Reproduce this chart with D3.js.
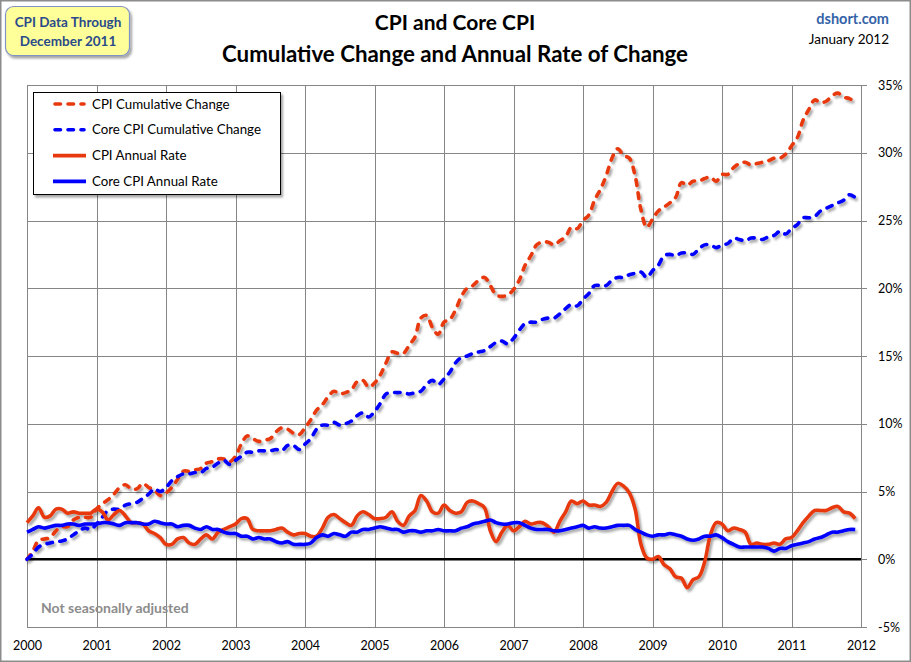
<!DOCTYPE html>
<html><head><meta charset="utf-8">
<script src="https://cdn.jsdelivr.net/npm/d3@7/dist/d3.min.js"></script>
<style>
body{margin:0;background:#fff}
svg{display:block;font-family:Lato,"Open Sans","DejaVu Sans",sans-serif}
</style>
</head><body>
<svg id="chart" width="911" height="662"></svg>
<script>
// ---------- data ----------
const xTickYears = [2000,2001,2002,2003,2004,2005,2006,2007,2008,2009,2010,2011,2012];
const yTickValues = [-5,0,5,10,15,20,25,30,35];
const startYear = 2000; // first monthly observation: Jan 2000, monthly through Dec 2011

// CPI cumulative change since Jan 2000 (%)
const cpiCumulative = [
 0.0,0.6,1.4,1.5,1.6,2.1,2.4,2.4,2.9,3.1,3.1,3.1,
 3.7,4.1,4.4,4.8,5.3,5.5,5.2,5.2,5.6,5.3,5.1,4.7,
 4.9,5.3,5.9,6.5,6.5,6.6,6.7,7.1,7.2,7.4,7.4,7.2,
 7.6,8.5,9.1,8.9,8.7,8.8,8.9,9.4,9.7,9.6,9.3,9.2,
 9.7,10.3,11.0,11.4,12.0,12.4,12.2,12.3,12.5,13.1,13.2,12.7,
 13.0,13.6,14.5,15.3,15.2,15.2,15.8,16.4,17.8,18.0,17.1,16.6,
 17.5,17.7,18.4,19.4,20.0,20.2,20.6,20.8,20.2,19.5,19.4,19.5,
 19.9,20.6,21.7,22.4,23.2,23.4,23.4,23.2,23.5,23.8,24.5,24.4,
 25.0,25.4,26.5,27.3,28.3,29.6,30.3,29.8,29.6,28.3,25.8,24.5,
 25.1,25.7,26.0,26.3,26.7,27.8,27.6,27.9,27.9,28.1,28.2,27.9,
 28.4,28.4,28.9,29.2,29.3,29.1,29.2,29.3,29.4,29.6,29.6,29.9,
 30.5,31.1,32.4,33.2,33.9,33.7,33.8,34.2,34.4,34.1,34.0,33.7
];
// Core CPI cumulative change since Jan 2000 (%)
const coreCumulative = [
 0.0,0.4,0.9,1.1,1.2,1.3,1.35,1.5,1.8,2.1,2.3,2.2,
 2.6,3.1,3.6,3.7,3.7,4.0,4.1,4.2,4.5,4.8,5.2,5.0,
 5.3,5.8,6.1,6.3,6.3,6.4,6.4,6.7,6.8,7.1,7.3,7.0,
 7.3,7.6,7.9,7.9,8.0,8.0,8.0,8.1,8.0,8.4,8.4,8.1,
 8.5,8.9,9.6,9.9,9.9,10.1,9.9,10.0,10.2,10.6,10.8,10.5,
 10.9,11.5,12.2,12.3,12.3,12.3,12.2,12.3,12.4,12.9,13.2,12.9,
 13.3,13.8,14.5,14.9,15.0,15.2,15.3,15.4,15.7,16.0,16.1,15.9,
 16.3,16.9,17.4,17.5,17.5,17.7,17.8,17.8,18.1,18.5,18.8,18.7,
 19.2,19.6,20.2,20.2,20.2,20.6,20.8,20.8,21.0,21.1,21.2,20.8,
 21.3,21.7,22.4,22.5,22.4,22.6,22.6,22.5,22.9,23.2,23.2,23.0,
 23.2,23.3,23.7,23.6,23.5,23.7,23.7,23.6,23.8,23.9,24.2,24.0,
 24.4,24.7,25.2,25.2,25.3,25.7,25.9,26.1,26.3,26.5,26.9,26.7
];
// CPI year-over-year rate (%)
const cpiAnnual = [
 2.7,3.2,3.8,3.1,3.2,3.7,3.7,3.4,3.5,3.4,3.4,3.4,
 3.7,3.5,2.9,3.3,3.6,3.2,2.7,2.7,2.6,2.1,1.9,1.6,
 1.1,1.1,1.5,1.6,1.2,1.1,1.5,1.8,1.5,2.0,2.2,2.4,
 2.6,3.0,3.0,2.2,2.1,2.1,2.1,2.2,2.3,2.0,1.8,1.9,
 1.9,1.7,1.7,2.3,3.1,3.3,3.0,2.7,2.5,3.2,3.5,3.3,
 3.0,3.0,3.1,3.5,2.8,2.5,3.2,3.6,4.7,4.3,3.5,3.4,
 4.0,3.6,3.4,3.5,4.2,4.3,4.1,3.8,2.1,1.3,2.0,2.5,
 2.1,2.4,2.8,2.6,2.7,2.7,2.4,2.0,2.8,3.5,4.3,4.1,
 4.3,4.0,4.0,3.9,4.2,5.0,5.6,5.4,4.9,3.7,1.1,0.1,
 0.0,0.2,-0.4,-0.7,-1.3,-1.4,-2.1,-1.5,-1.3,-0.2,1.8,2.7,
 2.6,2.1,2.3,2.2,2.0,1.1,1.2,1.1,1.1,1.2,1.1,1.5,
 1.6,2.1,2.7,3.2,3.6,3.6,3.6,3.8,3.9,3.5,3.4,3.0
];
// Core CPI year-over-year rate (%)
const coreAnnual = [
 2.0,2.2,2.4,2.3,2.4,2.5,2.5,2.6,2.6,2.5,2.6,2.6,
 2.6,2.7,2.7,2.6,2.5,2.7,2.7,2.7,2.6,2.6,2.8,2.7,
 2.6,2.6,2.4,2.5,2.5,2.3,2.2,2.4,2.2,2.2,2.0,1.9,
 1.9,1.7,1.7,1.5,1.6,1.5,1.5,1.3,1.2,1.3,1.1,1.1,
 1.1,1.2,1.6,1.8,1.7,1.9,1.8,1.7,2.0,2.0,2.2,2.2,
 2.3,2.4,2.3,2.2,2.2,2.0,2.1,2.1,2.0,2.1,2.1,2.2,
 2.1,2.1,2.1,2.3,2.4,2.6,2.7,2.8,2.9,2.7,2.6,2.6,
 2.7,2.7,2.5,2.3,2.2,2.2,2.2,2.1,2.1,2.2,2.3,2.4,
 2.5,2.3,2.4,2.3,2.3,2.4,2.5,2.5,2.5,2.2,2.0,1.8,
 1.7,1.8,1.8,1.9,1.8,1.7,1.5,1.4,1.5,1.7,1.7,1.8,
 1.6,1.3,1.1,0.9,0.9,0.9,0.9,0.9,0.8,0.6,0.8,0.8,
 1.0,1.1,1.2,1.3,1.5,1.6,1.8,2.0,2.0,2.1,2.2,2.2
];
const seriesNames = ["CPI Cumulative Change","Core CPI Cumulative Change","CPI Annual Rate","Core CPI Annual Rate"];
const seriesColors = ["#E8380D","#0000FF","#E8380D","#0000FF"];
const seriesDashed = [true,true,false,false];
const titleLines = ["CPI and Core CPI","Cumulative Change and Annual Rate of Change"];
const noteBoxLines = ["CPI Data Through","December 2011"];

// ---------- drawing ----------
const svg = d3.select("#chart");
const W = 911, H = 662;
const plot = {left:27, right:861, top:85, bottom:627};

const defs = svg.append("defs");
const f = defs.append("filter").attr("id","shadow").attr("x","-10%").attr("y","-10%").attr("width","130%").attr("height","130%");
f.append("feDropShadow").attr("dx",2).attr("dy",2.5).attr("stdDeviation",1.3)
  .attr("flood-color","#000").attr("flood-opacity",0.35);

// outer frame
svg.append("rect").attr("x",0.75).attr("y",0.75).attr("width",W-1.5).attr("height",H-1.5)
  .attr("fill","#fff").attr("stroke","#8c8c8c").attr("stroke-width",1.5);

const x = d3.scaleLinear().domain([2000,2012]).range([plot.left,plot.right]);
const y = d3.scaleLinear().domain([-5,35]).range([plot.bottom,plot.top]);

// grid
const grid = svg.append("g");
grid.selectAll(".vg").data(xTickYears).join("line")
  .attr("x1",d=>Math.round(x(d))+0.5).attr("x2",d=>Math.round(x(d))+0.5)
  .attr("y1",plot.top).attr("y2",plot.bottom)
  .attr("stroke","#868686").attr("stroke-width",1);
grid.selectAll(".hg").data(yTickValues).join("line")
  .attr("x1",plot.left).attr("x2",plot.right+6)
  .attr("y1",d=>Math.round(y(d))+0.5).attr("y2",d=>Math.round(y(d))+0.5)
  .attr("stroke","#868686").attr("stroke-width",1);

// axes labels via d3 axes
const xAxis = svg.append("g").attr("transform",`translate(0,${plot.bottom})`)
  .call(d3.axisBottom(x).tickValues(xTickYears).tickFormat(d3.format("d")).tickSize(0).tickPadding(14));
xAxis.select(".domain").remove();
xAxis.selectAll("text").attr("font-size",12.5).attr("fill","#000").attr("font-family","Lato, sans-serif");

const yAxis = svg.append("g").attr("transform",`translate(${plot.right},0)`)
  .call(d3.axisRight(y).tickValues(yTickValues).tickFormat(d=>d+"%").tickSize(0).tickPadding(17));
yAxis.select(".domain").remove();
yAxis.selectAll("text").attr("font-size",12.5).attr("fill","#000").attr("font-family","Lato, sans-serif");

// zero line
svg.append("line").attr("x1",plot.left).attr("x2",plot.right)
  .attr("y1",y(0)).attr("y2",y(0)).attr("stroke","#000").attr("stroke-width",2.5);

// series
const allSeries = [cpiCumulative, coreCumulative, cpiAnnual, coreAnnual];
const line = d3.line().x((d,i)=>x(startYear + i/12)).y(d=>y(d)).curve(d3.curveCatmullRom.alpha(0.5));
const gSeries = svg.append("g").attr("filter","url(#shadow)");
allSeries.forEach((s,k)=>{
  gSeries.append("path").datum(s).attr("d",line)
    .attr("fill","none").attr("stroke",seriesColors[k]).attr("stroke-width",3.6)
    .attr("stroke-linejoin","round")
    .attr("stroke-linecap",seriesDashed[k]?"round":"butt")
    .attr("stroke-dasharray",seriesDashed[k]?"5.5,7.5":null);
});

// note text
svg.append("text").attr("x",41).attr("y",613).text("Not seasonally adjusted")
  .attr("font-size",14).attr("font-weight","bold").attr("fill","#8c8c8c");

// legend
const lg = svg.append("g");
lg.append("rect").attr("x",33.5).attr("y",92.5).attr("width",247).attr("height",102)
  .attr("fill","#fff").attr("stroke","#000").attr("stroke-width",1).attr("filter","url(#shadow)");
seriesNames.forEach((n,k)=>{
  const yy = 104 + k*25.8;
  lg.append("line").attr("x1",seriesDashed[k]?55:53).attr("x2",seriesDashed[k]?84:86).attr("y1",yy).attr("y2",yy)
    .attr("stroke",seriesColors[k]).attr("stroke-width",3.6)
    .attr("stroke-linecap",seriesDashed[k]?"round":"butt")
    .attr("stroke-dasharray",seriesDashed[k]?"5.5,7.5":null);
  lg.append("text").attr("x",92).attr("y",yy+4.5).text(n).attr("font-size",13.3).attr("fill","#000");
});

// title
svg.append("text").attr("x",455).attr("y",30).attr("text-anchor","middle").text(titleLines[0])
  .attr("font-size",21).attr("font-weight","bold").attr("fill","#000");
svg.append("text").attr("x",455).attr("y",62).attr("text-anchor","middle").text(titleLines[1])
  .attr("font-size",22.3).attr("font-weight","bold").attr("fill","#000");

// dshort
svg.append("text").attr("x",889).attr("y",24).attr("text-anchor","end").text("dshort.com")
  .attr("font-size",14.5).attr("font-weight","bold").attr("fill","#3563a8");
svg.append("text").attr("x",889).attr("y",44).attr("text-anchor","end").text("January 2012")
  .attr("font-size",13.5).attr("fill","#000");

// note box
const nb = svg.append("g");
nb.append("rect").attr("x",5.5).attr("y",6.5).attr("width",124).attr("height",49).attr("rx",8)
  .attr("fill","#FFFF99").attr("stroke","#8193c4").attr("stroke-width",1.2).attr("filter","url(#shadow)");
noteBoxLines.forEach((t,i)=>{
  nb.append("text").attr("x",68).attr("y",27+i*18.5).attr("text-anchor","middle").text(t)
    .attr("font-size",13.5).attr("font-weight","bold").attr("fill","#2a4a8a");
});
</script>
</body></html>
